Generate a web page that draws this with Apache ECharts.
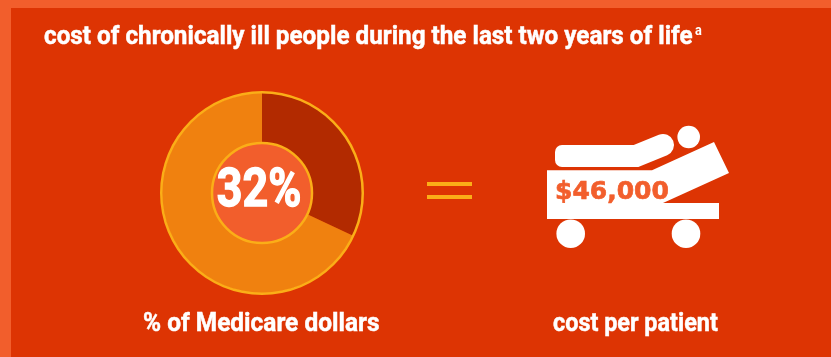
<!DOCTYPE html>
<html>
<head>
<meta charset="utf-8">
<style>html,body{margin:0;padding:0;background:#DD3403}#chart{width:831px;height:357px}</style>
<script src="https://cdn.jsdelivr.net/npm/echarts@6/dist/echarts.min.js"></script>
</head>
<body>
<div id="chart"></div>
<script>
// Share of Medicare dollars spent on the chronically ill in the last two years of life
const sliceNames = ['Chronically ill, last two years of life', 'All other'];
const sliceValues = [32, 68];
const costPerPatient = 46000;
const titleText = 'cost of chronically ill people during the last two years of life';
const shareCaption = '% of Medicare dollars';
const costCaption = 'cost per patient';

const PAGE = '#DD3403', BAND = '#F25E2C', DARK = '#B22A00', ORANGE = '#F0810F', GOLD = '#FBAE17', WHITE = '#FFFFFF';
const centre = [262, 193];

// Bold white text, narrowed horizontally and thickened with a hairline stroke
const caption = (text, x, y, size, scaleX, align, weight) => ({
  type: 'text', x, y, scaleX, z: 20, silent: true,
  style: { text, fill: WHITE, stroke: WHITE, lineWidth: weight === undefined ? 0.5 : weight,
    font: `700 ${size}px Roboto, sans-serif`, textAlign: align || 'left', textVerticalAlign: 'middle' }
});
const disc = (cx, cy, r) => ({ type: 'circle', z: 20, silent: true, shape: { cx, cy, r }, style: { fill: WHITE } });

const chart = echarts.init(document.getElementById('chart'), null, { renderer: 'canvas' });
chart.setOption({
  animation: false,
  backgroundColor: PAGE,
  series: [
    {
      type: 'pie', name: 'Medicare dollars', center: centre, radius: [50, 100], startAngle: 90,
      clockwise: true, silent: true, label: { show: false }, labelLine: { show: false }, z: 2,
      data: sliceNames.map((name, i) => ({ name, value: sliceValues[i], itemStyle: { color: i === 0 ? DARK : ORANGE } }))
    },
    {
      // thin gold outline round the whole ring
      type: 'pie', center: centre, radius: [99.5, 102], silent: true, z: 3,
      label: { show: false }, labelLine: { show: false },
      data: [{ value: 1, itemStyle: { color: GOLD } }]
    },
    {
      // centre disc behind the headline share
      type: 'pie', center: centre, radius: [0, 50], silent: true, z: 4,
      label: { show: false }, labelLine: { show: false },
      data: [{ value: 1, itemStyle: { color: BAND, borderColor: GOLD, borderWidth: 2.5 } }]
    }
  ],
  graphic: [
    // frame bands along the top and left edges
    { type: 'rect', z: 1, silent: true, shape: { x: 0, y: 0, width: 831, height: 8 }, style: { fill: BAND } },
    { type: 'rect', z: 1, silent: true, shape: { x: 0, y: 0, width: 11, height: 357 }, style: { fill: BAND } },
    caption(titleText, 44, 37, 26, 0.933),
    caption('a', 695, 31, 15, 0.85, 'left', 0),
    caption(shareCaption, 143, 324, 26, 0.94),
    caption(costCaption, 553, 324, 26, 0.90),
    caption(sliceValues[0] + '%', 259, 192, 54, 0.83, 'center', 1.4),
    // equals sign
    { type: 'rect', z: 20, silent: true, shape: { x: 427, y: 182, width: 45, height: 4 }, style: { fill: GOLD } },
    { type: 'rect', z: 20, silent: true, shape: { x: 427, y: 195, width: 45, height: 4 }, style: { fill: GOLD } },
    // hospital bed pictogram: frame, mattress, patient's head, wheels
    { type: 'polygon', z: 20, silent: true, shape: {
        points: [[547, 170.3], [652, 170.3], [714, 142], [729, 173], [663, 203], [719, 203], [719, 219], [547, 219]] }, style: { fill: WHITE } },
    { type: 'rect', z: 20, silent: true, shape: { x: 555, y: 145, width: 88, height: 22, r: 7 }, style: { fill: WHITE } },
    { type: 'polyline', z: 20, silent: true, shape: { points: [[636, 156], [663, 145]] },
      style: { stroke: WHITE, fill: null, lineWidth: 22, lineCap: 'round' } },
    disc(688.7, 137, 11.3),
    disc(570.7, 233.7, 14.3),
    disc(686, 233.7, 14.3),
    {
      type: 'text', x: 555, y: 192, z: 21, silent: true,
      style: { text: '$' + costPerPatient.toLocaleString('en-US'), fill: BAND, stroke: BAND, lineWidth: 0.7,
        font: '700 25px "DejaVu Sans", sans-serif', textAlign: 'left', textVerticalAlign: 'middle' }
    }
  ]
});
</script>
</body>
</html>
